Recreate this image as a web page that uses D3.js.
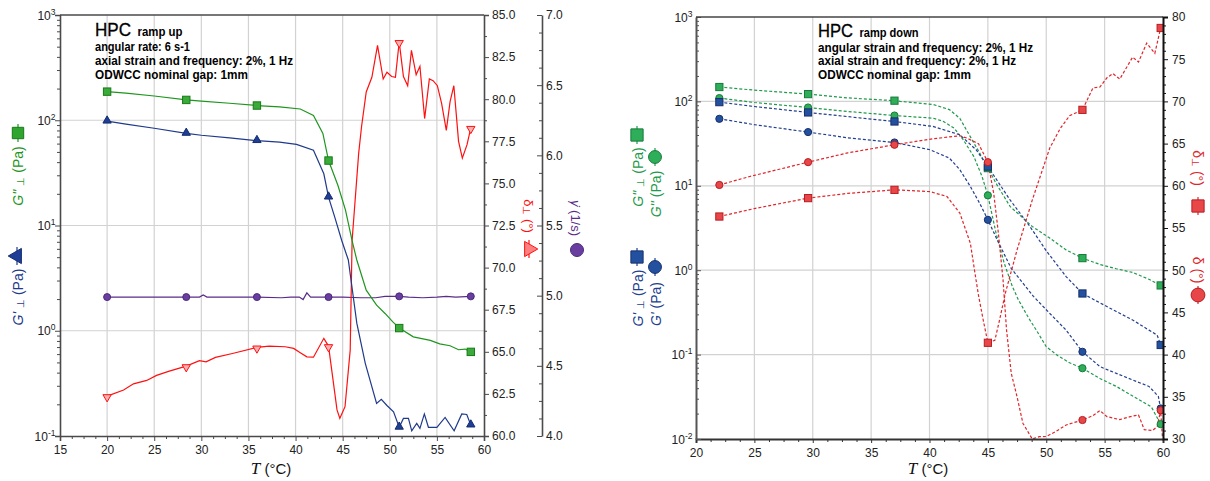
<!DOCTYPE html>
<html><head><meta charset="utf-8">
<script src="https://cdn.jsdelivr.net/npm/d3@7"></script>
<style>
body{margin:0;background:#fff}
svg{display:block}
text{font-family:"Liberation Sans",Arial,sans-serif}
</style>
</head><body>
<svg id="c" width="1210" height="481"></svg>
<script>
// ---------------- DATA: ramp up (left panel) ----------------
const upMarkerT = [20, 28.4, 35.9, 43.5, 51.0, 58.6];
const upT_Gpp = [20,22,25,28.4,30,33,35.9,38.3,40.5,41.9,42.9,43.5,44.5,45.3,46,46.5,47.5,48.6,49.5,50.3,51.0,52.5,54.3,55.3,56.4,57.3,58.0,58.6];
const upGpp   = [187,181,170,156,152,145,138,134,128,111,75,41.4,24,14,7.2,4.7,2.43,1.75,1.46,1.22,1.06,0.875,0.81,0.75,0.72,0.66,0.67,0.63];
const upT_Gp = [20,22,25,28.4,30,33,35.9,38.3,40.1,41.9,43,43.5,44.2,44.9,45.6,46.5,47.4,48.6,49.1,49.7,50.4,51.0,51.45,51.98,52.33,52.86,53.2,53.67,54.1,55.0,55.87,56.83,57.64,58.17,58.6];
const upGp   = [98,92,84,75,72,68,64,62,59,52,31,18.6,11.7,7.2,4.7,1.18,0.49,0.204,0.223,0.195,0.17,0.121,0.147,0.147,0.112,0.132,0.118,0.162,0.121,0.121,0.150,0.112,0.162,0.16,0.127];
const upT_D = [20,21.75,22.8,24.2,25.25,26.6,28.4,29.8,30.5,31.5,33.3,35.9,37.2,38.9,39.8,40.5,41.2,41.9,43.0,43.5,44.4,44.7,45.25,45.8,46.0,46.7,47.0,47.5,48.1,48.7,49.3,49.7,50.2,50.6,51.0,51.45,51.9,52.3,52.8,53.2,53.7,54.2,54.6,55.05,55.5,56.0,56.4,56.8,57.3,57.7,58.2,58.6];
const upD   = [62.37,62.73,63.1,63.3,63.6,63.85,64.15,64.47,64.4,64.67,64.9,65.26,65.34,65.3,65.2,64.95,64.7,64.68,65.8,65.34,61.55,61.05,61.74,65.1,71.6,76.8,78.35,80.43,81.3,83.2,81.2,81.6,81.35,81.3,83.4,81.35,80.8,82.9,81.45,81.95,78.85,81.2,81.1,80.8,79.75,78.15,79.85,80.8,77.5,76.5,77.3,78.3];
const upT_R = [20,28.4,29.8,30.2,30.6,35.9,38.5,39.5,40.4,40.8,41.2,41.6,43.5,45,47,48.5,49.5,51.0,52,53.5,55,56,57,58.6];
const upR   = [4.99,4.99,4.99,5.005,4.99,4.99,4.985,4.99,4.99,4.972,5.02,4.99,4.99,4.99,4.985,4.985,4.995,4.995,4.99,4.985,4.99,4.995,4.99,4.995];

// ---------------- DATA: ramp down (right panel) ----------------
const dnMarkerT = [22, 29.6, 37, 45, 53.1, 59.8];
const dnT_Gpp_perp = [22,25,29.6,33,37,37.5,40.3,41.7,42.6,43.5,44.3,45,45.7,46.9,48.8,50.3,51.7,53.1,54.6,56,57.4,58.8,59.8];
const dnGpp_perp   = [148,136,122,110,102,100,92,80,63,38,24.4,16.2,10.7,5.7,3.3,2.4,1.74,1.39,1.17,1.04,0.94,0.78,0.66];
const dnT_Gpp = [22,25,29.6,33,37,40.3,41.2,42.1,42.9,43.8,44.5,45,45.7,46.4,47.1,47.6,48.5,49.2,50,51,52,53.1,54.6,56,57.9,59,59.8];
const dnGpp   = [109.5,97,84.7,76,68,63.3,57.8,48.3,35,22.2,12.9,7.7,2.75,1.21,0.64,0.45,0.27,0.19,0.124,0.097,0.08,0.069,0.052,0.042,0.0295,0.024,0.015];
const dnT_Gp_perp = [22,25,29.6,33,37,40.3,42.6,44.0,45,46.9,48.6,50,51.7,53.1,54.6,56,57.4,58.8,59.5,59.8];
const dnGp_perp   = [98,87,74,66,57.8,50.5,40.2,26.7,16.9,6.8,3.3,1.7,0.84,0.53,0.41,0.324,0.257,0.195,0.17,0.13];
const dnT_Gp = [22,25,29.6,33,37,40.06,41.7,42.6,43.5,44.3,45,45.8,47,48.9,50,51.7,53.1,54.6,56,57.4,58.8,59.6,59.8];
const dnGp   = [62.2,53,43.3,37,32.6,26.7,21.3,15.5,9.8,6.2,3.95,2.29,1.05,0.49,0.34,0.195,0.108,0.072,0.06,0.05,0.042,0.032,0.023];
const dnT_D = [22,24.6,29.6,33,37,40.3,42.6,43.2,44.2,45,45.5,45.9,46.3,46.6,47.0,47.5,48.0,48.8,49.4,50.0,50.8,51.7,53.1,54.0,54.6,55.2,56.3,57.2,57.9,58.4,59.1,59.5,59.8,59.95];
const dnD   = [60.1,61.1,62.8,63.9,64.86,65.57,65.93,65.65,64.98,62.8,59.1,54.4,48.85,42.9,37.8,35.0,31.87,30.0,30.27,30.3,30.87,31.66,32.25,32.77,33.36,32.65,32.3,32.65,32.85,31.1,31.0,31.46,33.4,30.2];
const dnT_D_perp = [22,25,29.6,33,37,38.9,40.06,41.5,42.6,43.5,43.9,44.2,44.6,45,45.6,46.0,46.5,47.5,48.8,50.3,51.2,52.0,53.1,54.0,54.6,55.2,55.7,56.3,57.4,57.9,58.6,59.3,59.8];
const dnD_perp   = [56.36,57.3,58.54,59.1,59.52,59.4,59.3,58.73,56.76,53.2,49.6,47,44.1,41.4,41.7,44.1,47.3,52.4,58.3,64.47,66.8,68.3,69.0,71.6,71.7,72.8,73.3,72.65,75.25,74.66,76.9,75.7,78.7];

// tick labels
const upXTicks = [15,20,25,30,35,40,45,50,55,60];
const dnXTicks = [20,25,30,35,40,45,50,55,60];
const upDecades = [-1,0,1,2,3];
const dnDecades = [-2,-1,0,1,2,3];
const upDTicks = [60,62.5,65,67.5,70,72.5,75,77.5,80,82.5,85];
const upRTicks = [4.0,4.5,5.0,5.5,6.0,6.5,7.0];
const dnDTicks = [30,35,40,45,50,55,60,65,70,75,80];

const upTitle = ["HPC", "ramp up", "angular rate: 6 s-1", "axial strain and frequency: 2%, 1 Hz", "ODWCC nominal gap: 1mm"];
const dnTitle = ["HPC", "ramp down", "angular strain and frequency: 2%, 1 Hz", "axial strain and frequency: 2%, 1 Hz", "ODWCC nominal gap: 1mm"];

// ---------------- DRAWING ----------------
const svg = d3.select("#c");
svg.append("rect").attr("width",1210).attr("height",481).attr("fill","#fff");
const FONT = '"Liberation Sans",Arial,sans-serif';
const zip = (T, V) => T.map((t,i)=>({t, v:V[i]}));
const GRID = "#d2d2d2";

function minorLog(decs){ const out=[]; for(let i=0;i<decs.length-1;i++){ for(let k=2;k<=9;k++) out.push(k*Math.pow(10,decs[i])); } return out; }
function range(a,b,s){ const o=[]; for(let v=a; v<=b+1e-9; v+=s) o.push(+v.toFixed(4)); return o; }

function styleAx(g, col, w){
  g.select(".domain").attr("stroke", col).attr("stroke-width", w);
  g.selectAll(".tick line").attr("stroke", col).attr("stroke-width", 1);
  g.selectAll(".tick text").attr("font-family", FONT).attr("font-size", 12).attr("fill", "#222");
}

function logLabels(scale, decs, xr){
  decs.forEach(e=>{
    const t = svg.append("text").attr("x", xr).attr("y", scale(Math.pow(10,e))+4.5)
      .attr("text-anchor","end").attr("font-size",12).attr("fill","#222");
    t.append("tspan").text("10");
    t.append("tspan").attr("dy",-5).attr("font-size",8.5).text(String(e));
  });
}

function vLabel(x, y, rot, color, parts, size){
  const t = svg.append("text").attr("transform",`translate(${x},${y}) rotate(${rot})`)
    .attr("text-anchor","middle").attr("fill",color).attr("font-size",size);
  parts.forEach(p=>{
    const s = t.append("tspan").text(p.t);
    if(p.it) s.attr("font-style","italic");
    if(p.fs) s.attr("font-size",p.fs);
    if(p.dy) s.attr("dy",p.dy);
    if(p.ff) s.attr("font-family",p.ff);
  });
}

function legendSym(x, y, type, size, fill, stroke, rot, lineCol, vertical){
  const L = 9;
  if(vertical) svg.append("line").attr("x1",x).attr("x2",x).attr("y1",y-L).attr("y2",y+L).attr("stroke",lineCol).attr("stroke-width",1.2);
  svg.append("path").attr("d", d3.symbol().type(type).size(size)())
    .attr("transform",`translate(${x},${y}) rotate(${rot})`)
    .attr("fill",fill).attr("stroke",stroke).attr("stroke-width",1);
}

function title(lines, x, ys, widths){
  svg.append("text").attr("x",x).attr("y",ys[0]).attr("font-size",18).attr("fill","#000").attr("stroke","#000").attr("stroke-width",0.3)
    .attr("textLength",widths[0]).attr("lengthAdjust","spacingAndGlyphs").text(lines[0]);
  svg.append("text").attr("x",x+widths[0]+6.5).attr("y",ys[0]).attr("font-size",12).attr("font-weight","bold")
    .attr("textLength",widths[1]).attr("lengthAdjust","spacingAndGlyphs").text(lines[1]);
  for(let i=2;i<5;i++){
    svg.append("text").attr("x",x).attr("y",ys[i-1]).attr("font-size",12).attr("font-weight","bold")
      .attr("textLength",widths[i]).attr("lengthAdjust","spacingAndGlyphs").text(lines[i]);
  }
}

function xTitle(cx, y){
  const t = svg.append("text").attr("x",cx).attr("y",y).attr("text-anchor","middle").attr("font-size",15).attr("fill","#111");
  t.append("tspan").attr("font-family",'"Liberation Serif","Times New Roman",serif').attr("font-style","italic").attr("font-size",17).text("T");
  t.append("tspan").text(" (°C)");
}

// ======== LEFT PANEL ========
{
  const x = d3.scaleLinear([15,60],[60,484]);
  const y = d3.scaleLog([0.1,1000],[436,15]);
  const yD = d3.scaleLinear([60,85],[436,15]);
  const yR = d3.scaleLinear([4,7],[436,15]);
  const AX = "#4a4a4a";

  svg.append("g").selectAll("line").data(upXTicks.filter(v=>v>15&&v<60)).join("line")
    .attr("x1",d=>x(d)).attr("x2",d=>x(d)).attr("y1",15).attr("y2",436).attr("stroke",GRID).attr("stroke-width",1.2);
  svg.append("g").selectAll("line").data([0,1,2]).join("line")
    .attr("x1",60).attr("x2",484).attr("y1",d=>y(Math.pow(10,d))).attr("y2",d=>y(Math.pow(10,d))).attr("stroke",GRID).attr("stroke-width",1.2);

  svg.append("clipPath").attr("id","clipL").append("rect").attr("x",60).attr("y",15).attr("width",424).attr("height",421);
  const gL = svg.append("g").attr("clip-path","url(#clipL)");
  const lineLog = d3.line().x(d=>x(d.t)).y(d=>y(d.v));
  const lineD = d3.line().x(d=>x(d.t)).y(d=>yD(d.v));
  const lineR = d3.line().x(d=>x(d.t)).y(d=>yR(d.v));
  gL.append("path").attr("d",lineR(zip(upT_R,upR))).attr("fill","none").attr("stroke","#5a2d8a").attr("stroke-width",1.2);
  gL.append("path").attr("d",lineD(zip(upT_D,upD))).attr("fill","none").attr("stroke","#ff1010").attr("stroke-width",1.2);
  gL.append("path").attr("d",lineLog(zip(upT_Gpp,upGpp))).attr("fill","none").attr("stroke","#1e961e").attr("stroke-width",1.2);
  gL.append("path").attr("d",lineLog(zip(upT_Gp,upGp))).attr("fill","none").attr("stroke","#1f3a8a").attr("stroke-width",1.2);

  const isM = d => upMarkerT.includes(d.t);
  gL.selectAll(".mr").data(zip(upT_R,upR).filter(isM)).join("circle")
    .attr("cx",d=>x(d.t)).attr("cy",d=>yR(d.v)).attr("r",3.5).attr("fill","#6a3ea0").attr("stroke","#4b2a7a");
  gL.selectAll(".md").data(zip(upT_D,upD).filter(isM)).join("path")
    .attr("d",d3.symbol().type(d3.symbolTriangle).size(30)())
    .attr("transform",d=>`translate(${x(d.t)},${yD(d.v)+1}) rotate(180)`)
    .attr("fill","#ffb0b0").attr("stroke","#ff1010").attr("stroke-width",1);
  gL.selectAll(".mg").data(zip(upT_Gpp,upGpp).filter(isM)).join("rect")
    .attr("x",d=>x(d.t)-3.7).attr("y",d=>y(d.v)-3.7).attr("width",7.4).attr("height",7.4)
    .attr("fill","#3aaa3a").attr("stroke","#177a17").attr("stroke-width",1);
  gL.selectAll(".mb").data(zip(upT_Gp,upGp).filter(isM)).join("path")
    .attr("d",d3.symbol().type(d3.symbolTriangle).size(30)())
    .attr("transform",d=>`translate(${x(d.t)},${y(d.v)-0.5})`)
    .attr("fill","#1f3f96").attr("stroke","#142c6e").attr("stroke-width",1);

  const gx = svg.append("g").attr("transform","translate(0,436)")
    .call(d3.axisBottom(x).tickValues(upXTicks).tickSize(5).tickPadding(4).tickFormat(d3.format("d")));
  styleAx(gx, AX, 1.6);
  svg.append("g").attr("transform","translate(0,436)")
    .call(d3.axisBottom(x).tickValues(range(15,60,1.25).filter(v=>v%5)).tickSize(3).tickFormat(""))
    .call(g=>{g.select(".domain").remove(); g.selectAll("line").attr("stroke",AX);});

  const gy = svg.append("g").attr("transform","translate(60,0)")
    .call(d3.axisLeft(y).tickValues(upDecades.map(e=>Math.pow(10,e))).tickSize(5).tickFormat(""));
  styleAx(gy, AX, 1.6);
  svg.append("g").attr("transform","translate(60,0)")
    .call(d3.axisLeft(y).tickValues(minorLog(upDecades)).tickSize(3).tickFormat(""))
    .call(g=>{g.select(".domain").remove(); g.selectAll("line").attr("stroke",AX);});
  logLabels(y, upDecades, 55.5);

  svg.append("line").attr("x1",60).attr("x2",484).attr("y1",15).attr("y2",15).attr("stroke",AX).attr("stroke-width",1.6);

  const gd = svg.append("g").attr("transform","translate(484,0)")
    .call(d3.axisRight(yD).tickValues(upDTicks).tickSize(5).tickPadding(3).tickFormat(d3.format(".1f")));
  styleAx(gd, AX, 1.6);
  svg.append("g").attr("transform","translate(484,0)")
    .call(d3.axisRight(yD).tickValues(range(60,85,1.25).filter(v=>Math.abs(v/2.5-Math.round(v/2.5))>0.01)).tickSize(3).tickFormat(""))
    .call(g=>{g.select(".domain").remove(); g.selectAll("line").attr("stroke",AX);});

  const gr = svg.append("g").attr("transform","translate(542,0)")
    .call(d3.axisRight(yR).tickValues(upRTicks).tickSizeInner(-5).tickSizeOuter(0).tickPadding(4).tickFormat(d3.format(".1f")));
  styleAx(gr, AX, 1.6);
  svg.append("g").attr("transform","translate(542,0)")
    .call(d3.axisRight(yR).tickValues(range(4,7,0.125).filter(v=>Math.abs(v*2-Math.round(v*2))>0.01)).tickSizeInner(-3).tickSizeOuter(0).tickFormat(""))
    .call(g=>{g.select(".domain").remove(); g.selectAll("line").attr("stroke",AX);});

  vLabel(23, 176, -90, "#1e961e", [{t:"G'' ",it:true},{t:"⊥",fs:10,dy:1},{t:" (Pa)",dy:-1}], 14);
  legendSym(18, 133, d3.symbolSquare, 130, "#2fa52f", "#177a17", 0, "#1e961e", true);
  vLabel(23, 297, -90, "#1f3a8a", [{t:"G' ",it:true},{t:"⊥",fs:10,dy:1},{t:" (Pa)",dy:-1}], 14);
  legendSym(17, 256, d3.symbolTriangle, 100, "#1f3f96", "#142c6e", -90, "#1f3a8a", true);

  vLabel(524, 216, 90, "#ff1010", [{t:"δ"},{t:"⊥",fs:10,dy:1},{t:" (°)",dy:-1}], 13);
  legendSym(529, 249, d3.symbolTriangle, 100, "#ff8080", "#ff1010", 90, "#ff1010", true);
  vLabel(571, 218, 90, "#5a2d8a", [{t:"γ̇",it:true},{t:" (1/s)"}], 13);
  svg.append("circle").attr("cx",577).attr("cy",250).attr("r",6.5).attr("fill","#6a3ea0").attr("stroke","#4b2a7a");

  xTitle(271, 474);
  title(upTitle, 95, [36, 50.5, 65, 79], [36, 45, 95, 198, 153]);
}

// ======== RIGHT PANEL ========
{
  const x = d3.scaleLinear([20,60],[696,1163]);
  const y = d3.scaleLog([0.01,1000],[439,17]);
  const yD = d3.scaleLinear([30,80],[439,17]);
  const AX = "#333";

  svg.append("g").selectAll("line").data(dnXTicks.filter(v=>v>20&&v<60)).join("line")
    .attr("x1",d=>x(d)).attr("x2",d=>x(d)).attr("y1",17).attr("y2",439).attr("stroke",GRID).attr("stroke-width",1.2);
  svg.append("g").selectAll("line").data([-1,0,1,2]).join("line")
    .attr("x1",696).attr("x2",1163).attr("y1",d=>y(Math.pow(10,d))).attr("y2",d=>y(Math.pow(10,d))).attr("stroke",GRID).attr("stroke-width",1.2);

  svg.append("clipPath").attr("id","clipR").append("rect").attr("x",696).attr("y",17).attr("width",467).attr("height",422);
  const gR = svg.append("g").attr("clip-path","url(#clipR)");
  const lineLog = d3.line().x(d=>x(d.t)).y(d=>y(d.v));
  const lineD = d3.line().x(d=>x(d.t)).y(d=>yD(d.v));
  const GREEN="#1f9a4c", BLUE="#233f8f", RED="#e0262b";
  const dash = "3,2";
  const series = [
    {T:dnT_Gpp_perp, V:dnGpp_perp, c:GREEN, f:lineLog, sc:y, sym:"sq", fill:"#2fae5a", st:"#177a3a"},
    {T:dnT_Gpp, V:dnGpp, c:GREEN, f:lineLog, sc:y, sym:"ci", fill:"#2fae5a", st:"#177a3a"},
    {T:dnT_Gp_perp, V:dnGp_perp, c:BLUE, f:lineLog, sc:y, sym:"sq", fill:"#2450a0", st:"#16306a"},
    {T:dnT_Gp, V:dnGp, c:BLUE, f:lineLog, sc:y, sym:"ci", fill:"#2450a0", st:"#16306a"},
    {T:dnT_D, V:dnD, c:RED, f:lineD, sc:yD, sym:"ci", fill:"#e8474a", st:"#b81c20"},
    {T:dnT_D_perp, V:dnD_perp, c:RED, f:lineD, sc:yD, sym:"sq", fill:"#e8474a", st:"#b81c20"}
  ];
  series.forEach(s=>{
    gR.append("path").attr("d",s.f(zip(s.T,s.V))).attr("fill","none").attr("stroke",s.c).attr("stroke-width",1.2).attr("stroke-dasharray",dash);
  });
  series.forEach(s=>{
    const pts = zip(s.T,s.V).filter(d=>dnMarkerT.includes(d.t));
    if(s.sym==="sq"){
      gR.selectAll(null).data(pts).join("rect").attr("x",d=>x(d.t)-3.6).attr("y",d=>s.sc(d.v)-3.6).attr("width",7.2).attr("height",7.2)
        .attr("fill",s.fill).attr("stroke",s.st).attr("stroke-width",1);
    } else {
      gR.selectAll(null).data(pts).join("circle").attr("cx",d=>x(d.t)).attr("cy",d=>s.sc(d.v)).attr("r",3.6)
        .attr("fill",s.fill).attr("stroke",s.st).attr("stroke-width",1);
    }
  });

  const gx = svg.append("g").attr("transform","translate(0,439)")
    .call(d3.axisBottom(x).tickValues(dnXTicks).tickSize(4).tickPadding(5).tickFormat(d3.format("d")));
  styleAx(gx, AX, 2);
  svg.append("g").attr("transform","translate(0,439)")
    .call(d3.axisBottom(x).tickValues(range(20,60,1.25).filter(v=>v%5)).tickSize(3).tickFormat(""))
    .call(g=>{g.select(".domain").remove(); g.selectAll("line").attr("stroke",AX);});

  const gy = svg.append("g").attr("transform","translate(696,0)")
    .call(d3.axisLeft(y).tickValues(dnDecades.map(e=>Math.pow(10,e))).tickSizeInner(-5).tickSizeOuter(0).tickFormat(""));
  styleAx(gy, "#555", 2);
  svg.append("g").attr("transform","translate(696,0)")
    .call(d3.axisLeft(y).tickValues(minorLog(dnDecades)).tickSizeInner(-3).tickSizeOuter(0).tickFormat(""))
    .call(g=>{g.select(".domain").remove(); g.selectAll("line").attr("stroke","#555");});
  logLabels(y, dnDecades, 692.5);

  svg.append("line").attr("x1",696).attr("x2",1163).attr("y1",17).attr("y2",17).attr("stroke","#444").attr("stroke-width",1.6);

  const gd = svg.append("g").attr("transform","translate(1163,0)")
    .call(d3.axisRight(yD).tickValues(dnDTicks).tickSize(5).tickPadding(4).tickFormat(d3.format("d")));
  styleAx(gd, "#111", 2);
  svg.append("g").attr("transform","translate(1163,0)")
    .call(d3.axisRight(yD).tickValues(range(30,80,1).filter(v=>v%5)).tickSize(3).tickFormat(""))
    .call(g=>{g.select(".domain").remove(); g.selectAll("line").attr("stroke","#111");});

  vLabel(643, 177, -90, GREEN, [{t:"G'' ",it:true},{t:"⊥",fs:10,dy:1},{t:"  (Pa)",dy:-1}], 14);
  legendSym(637, 135, d3.symbolSquare, 150, "#2fae5a", "#177a3a", 0, GREEN, true);
  vLabel(661, 194, -90, GREEN, [{t:"G'' ",it:true},{t:"(Pa)"}], 14);
  legendSym(655, 157, d3.symbolCircle, 130, "#2fae5a", "#177a3a", 0, GREEN, true);

  vLabel(643, 298, -90, BLUE, [{t:"G' ",it:true},{t:"⊥",fs:10,dy:1},{t:" (Pa)",dy:-1}], 14);
  legendSym(637, 257, d3.symbolSquare, 150, "#2450a0", "#16306a", 0, BLUE, true);
  vLabel(661, 304, -90, BLUE, [{t:"G' ",it:true},{t:"(Pa)"}], 14);
  legendSym(655, 267, d3.symbolCircle, 130, "#2450a0", "#16306a", 0, BLUE, true);

  vLabel(1193, 168, 90, RED, [{t:"δ"},{t:"⊥",fs:10,dy:1},{t:" (°)",dy:-1}], 14);
  legendSym(1198, 206, d3.symbolSquare, 150, "#e8474a", "#b81c20", 0, RED, true);
  vLabel(1193, 270, 90, RED, [{t:"δ"},{t:" (°)"}], 14);
  legendSym(1198, 295, d3.symbolCircle, 150, "#e8474a", "#b81c20", 0, RED, true);

  xTitle(928, 474);
  title(dnTitle, 818, [36.5, 51.5, 65, 79], [35, 59, 215, 198, 153]);
}
</script>
</body></html>
